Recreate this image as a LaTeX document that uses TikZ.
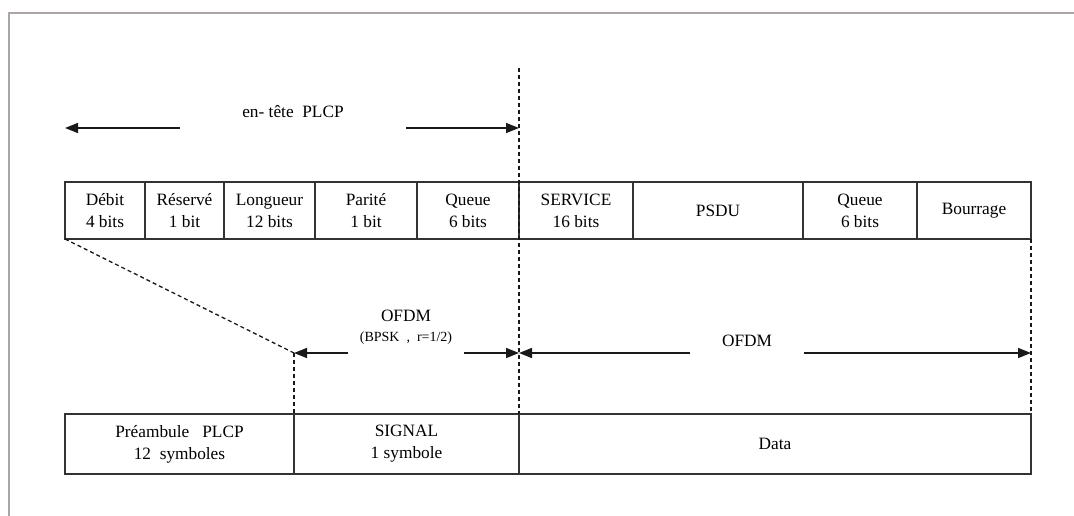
\documentclass[tikz,border=0pt]{standalone}
\usepackage{fontspec}
\setmainfont{Liberation Serif}
\usetikzlibrary{positioning,arrows.meta}

\definecolor{framegray}{RGB}{172,164,168}

\begin{document}
\begin{tikzpicture}[
    x=1pt, y=-1pt,
    field/.style={rectangle, draw=black!80, line width=1.4pt, minimum height=57pt, inner sep=0pt, outer sep=0pt, align=center, font=\fontsize{17.3}{22}\selectfont},
    slot/.style={field, minimum height=60pt},
    lbl/.style={align=center, inner sep=0pt, font=\fontsize{17.3}{20}\selectfont},
    dim/.style={-{Triangle[length=13pt, width=10pt]}, line width=1.5pt, black!90},
    guide/.style={dash pattern=on 4pt off 3pt, line width=1.3pt, black!90},
    frame/.style={framegray, line width=1.5pt}
]
\useasboundingbox (0,0) rectangle (1074,516);
\draw[frame] (9,516) -- (9,13) -- (1074,13);

% en-tete fields
\node[field, minimum width=80pt, anchor=north west] (debit) at (65,182) {Débit\\4 bits};
\node[field, minimum width=79pt, right=0pt of debit] (reserve) {Réservé\\1 bit};
\node[field, minimum width=91pt, right=0pt of reserve] (longueur) {Longueur\\12 bits};
\node[field, minimum width=102pt, right=0pt of longueur] (parite) {Parité\\1 bit};
\node[field, minimum width=102pt, right=0pt of parite] (queue1) {Queue\\6 bits};
\node[field, minimum width=114pt, right=0pt of queue1] (service) {SERVICE\\16 bits};
\node[field, minimum width=170pt, right=0pt of service] (psdu) {PSDU};
\node[field, minimum width=114pt, right=0pt of psdu] (queue2) {Queue\\6 bits};
\node[field, minimum width=114pt, right=0pt of queue2] (bourrage) {Bourrage};

% trame PPDU
\node[slot, minimum width=229pt, anchor=north west] (preambule) at (65,414) {Préambule\ \ \ PLCP\\12\ \ symboles};
\node[slot, minimum width=225pt, right=0pt of preambule] (signal) {SIGNAL\\1 symbole};
\node[slot, minimum width=512pt, right=0pt of signal] (data) {Data};

% reperes
\coordinate (cut) at (519,68);
\coordinate (hdrL) at (65,128);
\coordinate (hdrR) at (519,128);
\coordinate (sigL) at (294,353);
\coordinate (sigR) at (519,353);
\coordinate (datL) at (519,353);
\coordinate (datR) at (1031,353);

\draw[guide] (cut) -- (signal.north east);
\draw[guide] (bourrage.south east) -- (data.north east);
\draw[guide] (debit.south west) -- (sigL);
\draw[guide] (sigL) -- (signal.north west);

% cotes
\node[lbl, minimum width=226pt] (hdr) at (293,112) {en- tête\ \ PLCP};
\draw[dim] (hdr.west |- hdrL) -- (hdrL);
\draw[dim] (hdr.east |- hdrR) -- (hdrR);

\node[lbl, minimum width=115pt] (ofdm1) at (406,327) {OFDM\\{\fontsize{14}{16}\selectfont (BPSK\ \ ,\ \ r=1/2)}};
\draw[dim] (ofdm1.west |- sigL) -- (sigL);
\draw[dim] (ofdm1.east |- sigR) -- (sigR);

\node[lbl, minimum width=114pt] (ofdm2) at (747,341) {OFDM};
\draw[dim] (ofdm2.west |- datL) -- (datL);
\draw[dim] (ofdm2.east |- datR) -- (datR);
\end{tikzpicture}
\end{document}
